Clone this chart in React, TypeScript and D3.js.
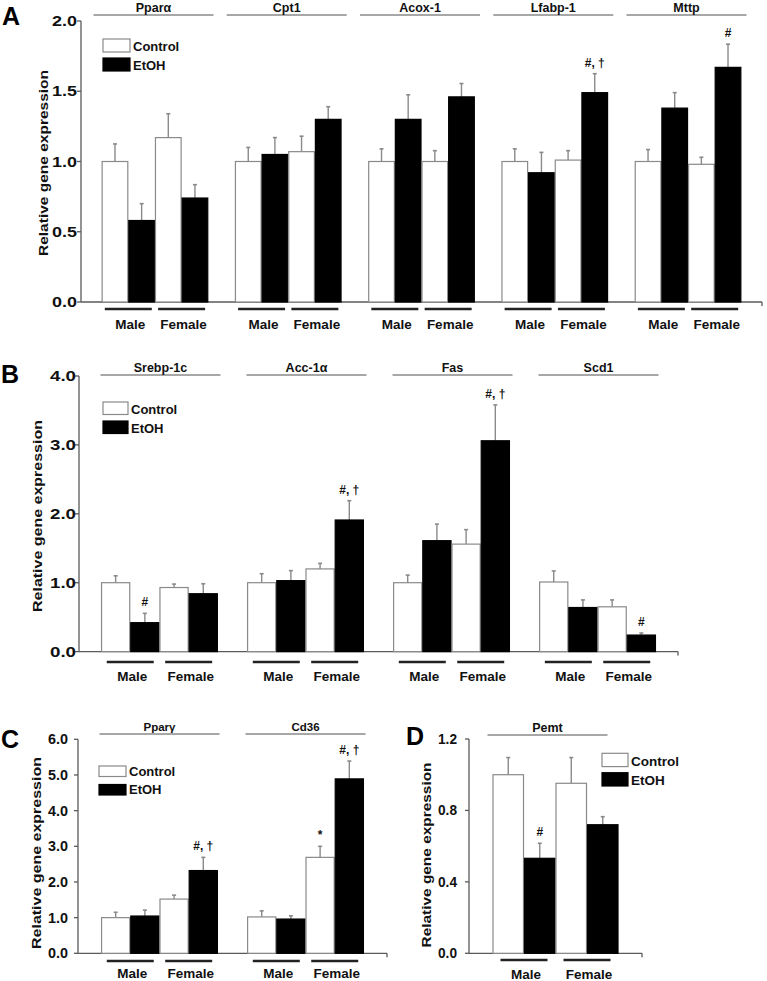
import React from "react";
import * as d3 from "d3";

const seriesLabels = ["Control", "EtOH"];
const sexLabels = ["Male", "Female"];
const yTitle = "Relative gene expression";

// Panel A
const aGenes = ["Pparα", "Cpt1", "Acox-1", "Lfabp-1", "Mttp"];
const aMaleControl = [1.0, 1.0, 1.0, 1.0, 1.0];
const aMaleControlSem = [0.125, 0.1, 0.09, 0.09, 0.085];
const aMaleEtOH = [0.58, 1.05, 1.3, 0.92, 1.38];
const aMaleEtOHSem = [0.12, 0.12, 0.175, 0.145, 0.11];
const aFemaleControl = [1.17, 1.07, 1.0, 1.01, 0.98];
const aFemaleControlSem = [0.17, 0.11, 0.077, 0.067, 0.05];
const aFemaleEtOH = [0.74, 1.3, 1.46, 1.49, 1.67];
const aFemaleEtOHSem = [0.095, 0.09, 0.095, 0.135, 0.165];
const aMarks: [number, number, string][] = [[3, 3, "#, †"], [3, 4, "#"]];

// Panel B
const bGenes = ["Srebp-1c", "Acc-1α", "Fas", "Scd1"];
const bMaleControl = [1.0, 1.0, 1.0, 1.01];
const bMaleControlSem = [0.1, 0.13, 0.11, 0.16];
const bMaleEtOH = [0.42, 1.03, 1.61, 0.64];
const bMaleEtOHSem = [0.135, 0.145, 0.24, 0.11];
const bFemaleControl = [0.93, 1.2, 1.56, 0.65];
const bFemaleControlSem = [0.05, 0.08, 0.21, 0.1];
const bFemaleEtOH = [0.84, 1.91, 3.06, 0.24];
const bFemaleEtOHSem = [0.145, 0.28, 0.52, 0.03];
const bMarks: [number, number, string][] = [[1, 0, "#"], [3, 1, "#, †"], [3, 2, "#, †"], [3, 3, "#"]];

// Panel C
const cGenes = ["Pparγ", "Cd36"];
const cMaleControl = [1.0, 1.02];
const cMaleControlSem = [0.15, 0.17];
const cMaleEtOH = [1.045, 0.96];
const cMaleEtOHSem = [0.165, 0.09];
const cFemaleControl = [1.52, 2.69];
const cFemaleControlSem = [0.11, 0.31];
const cFemaleEtOH = [2.32, 4.89];
const cFemaleEtOHSem = [0.37, 0.5];
const cMarks: [number, number, string][] = [[3, 0, "#, †"], [2, 1, "*"], [3, 1, "#, †"]];

// Panel D
const dGenes = ["Pemt"];
const dMaleControl = [1.0];
const dMaleControlSem = [0.096];
const dMaleEtOH = [0.532];
const dMaleEtOHSem = [0.084];
const dFemaleControl = [0.952];
const dFemaleControlSem = [0.144];
const dFemaleEtOH = [0.72];
const dFemaleEtOHSem = [0.045];
const dMarks: [number, number, string][] = [[1, 0, "#"]];

const FONT = "'Liberation Sans', Arial, Helvetica, sans-serif";
const GRAY = "#8a8a8a";
const AXIS = "#5a5a5a";

type Layout = {
  left: number; right: number; top: number; bottom: number;
  po: number; pi: number;
  yMax: number; tickStep: number;
  tickGap: number; tickLen: number; tickFont: number;
  headerY: number; headerShift: number; headerFont: number;
  legendX: number; legendY: number; legendGap: number; legendW: number; legendH: number; legendFont: number;
  sexLineY: number; sexLabelY: number;
  titleX: number; titleY: number; titleLen: number; titleFont: number;
  letter: string; letterX: number; letterY: number;
};

function Panel(props: {
  genes: string[];
  means: number[][];
  sems: number[][];
  marks: [number, number, string][];
  L: Layout;
}) {
  const { genes, means, sems, marks, L } = props;
  const y = d3.scaleLinear().domain([0, L.yMax]).range([L.bottom, L.top]);
  const x = d3.scaleBand<string>().domain(genes).range([L.left, L.right]).paddingInner(L.pi).paddingOuter(L.po);
  const sub = d3.scaleBand<number>().domain([0, 1, 2, 3]).range([0, x.bandwidth()]);
  const bw = sub.bandwidth();
  const ticks = d3.range(0, L.yMax + L.tickStep / 2, L.tickStep);
  const fmt = d3.format(".1f");

  return (
    <g fontFamily={FONT} fontWeight="bold">
      <text x={L.letterX} y={L.letterY} fontSize={25} fill="#000">{L.letter}</text>
      <line x1={L.left} x2={L.left} y1={L.top} y2={L.bottom} stroke={AXIS} strokeWidth={1.3} />
      {ticks.map((t) => (
        <g key={t}>
          <line x1={L.left - 4} x2={L.left} y1={y(t)} y2={y(t)} stroke={AXIS} strokeWidth={1.3} />
          <text x={L.left - L.tickGap} y={y(t) + L.tickFont * 0.36} textAnchor="end" fontSize={L.tickFont}
            textLength={L.tickLen} lengthAdjust="spacingAndGlyphs" fill="#111">{fmt(t)}</text>
        </g>
      ))}
      <line x1={L.left} x2={L.right} y1={L.bottom} y2={L.bottom} stroke={AXIS} strokeWidth={1.3} />
      <line x1={L.right} x2={L.right} y1={L.bottom} y2={L.bottom + 4} stroke={AXIS} strokeWidth={1.3} />
      <text transform={`translate(${L.titleX},${L.titleY}) rotate(-90)`} textAnchor="middle" fontSize={L.titleFont}
        textLength={L.titleLen} lengthAdjust="spacingAndGlyphs" fill="#111">{yTitle}</text>
      {genes.map((g, gi) => {
        const x0 = x(g) as number;
        const cx = x0 + x.bandwidth() / 2 + L.headerShift;
        return (
          <g key={g}>
            <line x1={cx - 60} x2={cx + 60} y1={L.headerY} y2={L.headerY} stroke={GRAY} strokeWidth={1.6} />
            <text x={cx} y={L.headerY - 3.5} textAnchor="middle" fontSize={L.headerFont} fill="#111">{g}</text>
            {[0, 1, 2, 3].map((si) => {
              const v = means[si][gi];
              const e = sems[si][gi];
              const bx = x0 + (sub(si) as number);
              const ctrl = si % 2 === 0;
              return (
                <g key={si}>
                  <line x1={bx + bw / 2} x2={bx + bw / 2} y1={y(v)} y2={y(v + e)} stroke={GRAY} strokeWidth={1.4} />
                  <line x1={bx + bw / 2 - 2} x2={bx + bw / 2 + 2} y1={y(v + e)} y2={y(v + e)} stroke={GRAY} strokeWidth={1.6} />
                  <rect x={bx + 0.5} y={y(v)} width={bw - 1} height={L.bottom - y(v)}
                    fill={ctrl ? "#fff" : "#000"} stroke={ctrl ? GRAY : "#000"} strokeWidth={1.2} />
                </g>
              );
            })}
            {[0, 1].map((k) => {
              const pc = x0 + (sub(k * 2) as number) + bw;
              return (
                <g key={k}>
                  <line x1={pc - 23.5} x2={pc + 23.5} y1={L.sexLineY} y2={L.sexLineY} stroke="#222" strokeWidth={2.6} />
                  <text x={pc + 2} y={L.sexLabelY} textAnchor="middle" fontSize={13.5} fill="#111">{sexLabels[k]}</text>
                </g>
              );
            })}
          </g>
        );
      })}
      {marks.map(([si, gi, txt], i) => {
        const g = genes[gi];
        const bx = (x(g) as number) + (sub(si) as number) + bw / 2;
        const top = y(means[si][gi] + sems[si][gi]);
        return (
          <text key={i} x={bx} y={top - 7} textAnchor="middle" fontSize={12} fill="#111">{txt}</text>
        );
      })}
      {seriesLabels.map((s, i) => (
        <g key={s}>
          <rect x={L.legendX} y={L.legendY + i * L.legendGap} width={L.legendW} height={L.legendH}
            fill={i === 0 ? "#fff" : "#000"} stroke={i === 0 ? GRAY : "#000"} strokeWidth={1.2} />
          <text x={L.legendX + L.legendW + 3} y={L.legendY + i * L.legendGap + L.legendH - 1} fontSize={L.legendFont} fill="#111">{s}</text>
        </g>
      ))}
    </g>
  );
}

const layoutA: Layout = {
  left: 81, right: 762, top: 21, bottom: 302, po: 0.155, pi: 0.2, yMax: 2, tickStep: 0.5,
  tickGap: 4, tickLen: 25, tickFont: 14,
  headerY: 15, headerShift: -1.5, headerFont: 12.5,
  legendX: 103, legendY: 39, legendGap: 19, legendW: 27, legendH: 13, legendFont: 13,
  sexLineY: 309, sexLabelY: 329,
  titleX: 48, titleY: 163, titleLen: 186, titleFont: 13.5,
  letter: "A", letterX: 2, letterY: 25,
};
const layoutB: Layout = {
  left: 79, right: 678, top: 376, bottom: 651.6, po: 0.151, pi: 0.2, yMax: 4, tickStep: 1,
  tickGap: 3, tickLen: 26, tickFont: 14,
  headerY: 375, headerShift: 1, headerFont: 12.5,
  legendX: 103, legendY: 402, legendGap: 19, legendW: 25, legendH: 12.5, legendFont: 13,
  sexLineY: 662, sexLabelY: 681,
  titleX: 42, titleY: 516, titleLen: 192, titleFont: 13.5,
  letter: "B", letterX: 1, letterY: 383,
};
const layoutC: Layout = {
  left: 78, right: 387, top: 739.3, bottom: 953.3, po: 0.158, pi: 0.2, yMax: 6, tickStep: 1,
  tickGap: 10, tickLen: 20, tickFont: 14,
  headerY: 734, headerShift: 0, headerFont: 11.5,
  legendX: 99, legendY: 766, legendGap: 18.5, legendW: 27, legendH: 10.5, legendFont: 13,
  sexLineY: 961, sexLabelY: 978,
  titleX: 41, titleY: 853, titleLen: 192, titleFont: 13.5,
  letter: "C", letterX: 1, letterY: 748,
};
const layoutD: Layout = {
  left: 469, right: 642, top: 739, bottom: 953.3, po: 0.1865, pi: 0, yMax: 1.2, tickStep: 0.4,
  tickGap: 12, tickLen: 19, tickFont: 14,
  headerY: 735, headerShift: -8, headerFont: 12.5,
  legendX: 602, legendY: 753.3, legendGap: 19.4, legendW: 26, legendH: 13.3, legendFont: 13.5,
  sexLineY: 960, sexLabelY: 979,
  titleX: 431, titleY: 855, titleLen: 185, titleFont: 13.5,
  letter: "D", letterX: 406, letterY: 745,
};

export default function App() {
  return (
    <svg width={767} height={981} viewBox="0 0 767 981"
      style={{ position: "absolute", left: 0, top: 0, background: "#fff" }}>
      <rect width={767} height={981} fill="#fff" />
      <Panel genes={aGenes} L={layoutA} marks={aMarks}
        means={[aMaleControl, aMaleEtOH, aFemaleControl, aFemaleEtOH]}
        sems={[aMaleControlSem, aMaleEtOHSem, aFemaleControlSem, aFemaleEtOHSem]} />
      <Panel genes={bGenes} L={layoutB} marks={bMarks}
        means={[bMaleControl, bMaleEtOH, bFemaleControl, bFemaleEtOH]}
        sems={[bMaleControlSem, bMaleEtOHSem, bFemaleControlSem, bFemaleEtOHSem]} />
      <Panel genes={cGenes} L={layoutC} marks={cMarks}
        means={[cMaleControl, cMaleEtOH, cFemaleControl, cFemaleEtOH]}
        sems={[cMaleControlSem, cMaleEtOHSem, cFemaleControlSem, cFemaleEtOHSem]} />
      <Panel genes={dGenes} L={layoutD} marks={dMarks}
        means={[dMaleControl, dMaleEtOH, dFemaleControl, dFemaleEtOH]}
        sems={[dMaleControlSem, dMaleEtOHSem, dFemaleControlSem, dFemaleEtOHSem]} />
    </svg>
  );
}
